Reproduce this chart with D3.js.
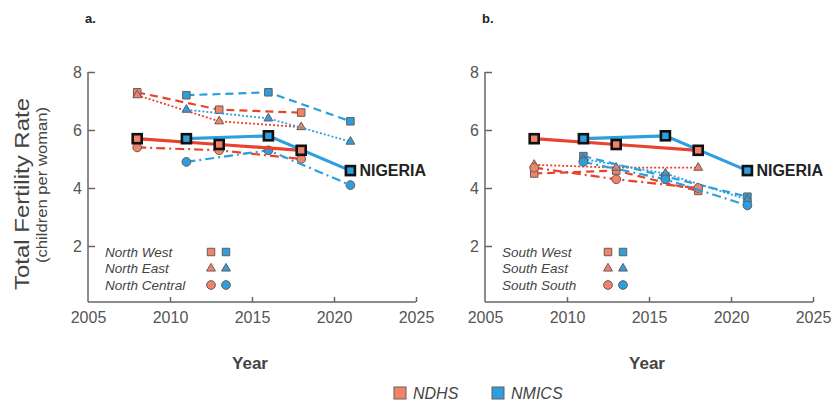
<!DOCTYPE html>
<html>
<head>
<meta charset="utf-8">
<script src="https://cdn.jsdelivr.net/npm/d3@7"></script>
<style>
  html, body { margin: 0; padding: 0; background: #fff; }
  svg { display: block; }
  text { font-family: "Liberation Sans", Arial, sans-serif; }
</style>
</head>
<body>
<svg id="chart" width="833" height="408"></svg>
<script>
// Survey years
const yearsNDHS = [2008, 2013, 2018];
const yearsNMICS = [2011, 2016, 2021];

// Total fertility rate, national
const nigeriaNDHS = [5.7, 5.5, 5.3];
const nigeriaNMICS = [5.7, 5.8, 4.6];

// Northern zones
const northWestNDHS = [7.3, 6.7, 6.6];
const northWestNMICS = [7.2, 7.3, 6.3];
const northEastNDHS = [7.2, 6.3, 6.1];
const northEastNMICS = [6.7, 6.4, 5.6];
const northCentralNDHS = [5.4, 5.3, 5.0];
const northCentralNMICS = [4.9, 5.3, 4.1];

// Southern zones
const southWestNDHS = [4.5, 4.6, 3.9];
const southWestNMICS = [5.1, 4.4, 3.7];
const southEastNDHS = [4.8, 4.7, 4.7];
const southEastNMICS = [5.0, 4.5, 3.6];
const southSouthNDHS = [4.7, 4.3, 4.0];
const southSouthNMICS = [4.9, 4.3, 3.4];

const yTicks = [2, 4, 6, 8];
const xTicks = [2005, 2010, 2015, 2020, 2025];

const RED_LINE = "#e8432d", RED_FILL = "#ef8468";
const BLUE_LINE = "#2c9fe0", BLUE_FILL = "#2c9fe0";
const EDGE = "#6b5a55";

const svg = d3.select("#chart");

const panels = [
  {
    tag: "a.", left: 88, right: 416,
    names: ["North West", "North East", "North Central"],
    zones: [
      [northWestNDHS, northWestNMICS],
      [northEastNDHS, northEastNMICS],
      [northCentralNDHS, northCentralNMICS]
    ]
  },
  {
    tag: "b.", left: 485, right: 813,
    names: ["South West", "South East", "South South"],
    zones: [
      [southWestNDHS, southWestNMICS],
      [southEastNDHS, southEastNMICS],
      [southSouthNDHS, southSouthNMICS]
    ]
  }
];

// line style and marker per zone: West dashed/square, East dotted/triangle, third dash-dot/circle
const zoneDash = ["8,5", "2,2", "9,4,2,4"];
const zoneShape = [d3.symbolSquare, d3.symbolTriangle, d3.symbolCircle];
const zoneSize = [56, 34, 60];

const AXIS_Y = 302;

panels.forEach(p => {
  const x = d3.scaleLinear().domain([2005, 2025]).range([p.left, p.right]);
  const y = d3.scaleLinear().domain([0, 8]).range([304, 72]);
  const g = svg.append("g");

  // panel tag
  g.append("text").attr("x", p.left - 3).attr("y", 23)
    .attr("font-size", 13).attr("font-weight", "bold").attr("fill", "#222")
    .text(p.tag);

  // axes
  const yAxis = d3.axisLeft(y).tickValues(yTicks).tickSizeInner(-7).tickSizeOuter(0).tickPadding(6)
    .tickFormat(d3.format("d"));
  const ya = g.append("g").attr("transform", `translate(${p.left},0)`).call(yAxis);
  ya.select(".domain").remove();
  ya.selectAll(".tick line").attr("stroke", "#666").attr("stroke-width", 1.5);
  ya.selectAll(".tick text").attr("font-size", 16).attr("fill", "#555")
    .attr("font-family", "'Liberation Sans', Arial, sans-serif");
  g.append("line").attr("x1", p.left).attr("x2", p.left).attr("y1", y(8)).attr("y2", AXIS_Y)
    .attr("stroke", "#666").attr("stroke-width", 1.5);

  const xAxis = d3.axisBottom(x).tickValues(xTicks).tickSizeInner(-5).tickSizeOuter(0).tickPadding(10)
    .tickFormat(d3.format("d"));
  const xa = g.append("g").attr("transform", `translate(0,${AXIS_Y})`).call(xAxis);
  xa.select(".domain").remove();
  xa.selectAll(".tick line").attr("stroke", "#666").attr("stroke-width", 1.5)
    .attr("display", d => d === 2005 ? "none" : null);
  xa.selectAll(".tick text").attr("font-size", 16).attr("fill", "#555")
    .attr("font-family", "'Liberation Sans', Arial, sans-serif");
  g.append("line").attr("x1", p.left).attr("x2", p.right).attr("y1", AXIS_Y).attr("y2", AXIS_Y)
    .attr("stroke", "#666").attr("stroke-width", 1.5);

  g.append("text").attr("x", (p.left + p.right) / 2 - 2).attr("y", 369)
    .attr("text-anchor", "middle").attr("font-size", 17).attr("font-weight", "bold").attr("fill", "#444")
    .text("Year");

  const line = d3.line().x(d => x(d[0])).y(d => y(d[1]));
  const pts = (years, vals) => years.map((yr, i) => [yr, vals[i]]);

  // regional series
  p.zones.forEach((z, zi) => {
    [[yearsNDHS, z[0], RED_LINE, RED_FILL], [yearsNMICS, z[1], BLUE_LINE, BLUE_FILL]].forEach(s => {
      const data = pts(s[0], s[1]);
      g.append("path").datum(data).attr("d", line).attr("fill", "none")
        .attr("stroke", s[2]).attr("stroke-width", zi === 1 ? 1.8 : 2.2)
        .attr("stroke-dasharray", zoneDash[zi]);
      g.selectAll(null).data(data).enter().append("path")
        .attr("transform", d => `translate(${x(d[0])},${y(d[1])})`)
        .attr("d", d3.symbol().type(zoneShape[zi]).size(zoneSize[zi]))
        .attr("fill", s[3]).attr("stroke", EDGE).attr("stroke-width", 1);
    });
  });

  // national series
  [[yearsNDHS, nigeriaNDHS, RED_LINE, RED_FILL], [yearsNMICS, nigeriaNMICS, BLUE_LINE, BLUE_FILL]].forEach(s => {
    const data = pts(s[0], s[1]);
    g.append("path").datum(data).attr("d", line).attr("fill", "none")
      .attr("stroke", s[2]).attr("stroke-width", 3.2);
  });
  [[yearsNDHS, nigeriaNDHS, RED_FILL], [yearsNMICS, nigeriaNMICS, BLUE_FILL]].forEach(s => {
    const data = pts(s[0], s[1]);
    g.selectAll(null).data(data).enter().append("rect")
      .attr("x", d => x(d[0]) - 4.5).attr("y", d => y(d[1]) - 4.5)
      .attr("width", 9).attr("height", 9)
      .attr("fill", s[2]).attr("stroke", "#111").attr("stroke-width", 2.6);
  });
  const lastX = yearsNMICS[yearsNMICS.length - 1], lastV = nigeriaNMICS[nigeriaNMICS.length - 1];
  g.append("text").attr("x", x(lastX) + 9).attr("y", y(lastV) + 5.5)
    .attr("font-size", 16).attr("font-weight", "bold").attr("fill", "#222")
    .text("NIGERIA");

  // zone key
  p.names.forEach((nm, i) => {
    const ky = 252 + i * 16.5;
    g.append("text").attr("x", p.left + 17).attr("y", ky + 4.5)
      .attr("font-size", 13.5).attr("font-style", "italic").attr("fill", "#444").text(nm);
    [[RED_FILL, 123], [BLUE_FILL, 138]].forEach(m => {
      g.append("path").attr("transform", `translate(${p.left + m[1]},${ky})`)
        .attr("d", d3.symbol().type(zoneShape[i]).size(zoneSize[i]))
        .attr("fill", m[0]).attr("stroke", EDGE).attr("stroke-width", 1);
    });
  });
});

// y axis title
svg.append("text").attr("transform", "translate(29,194) rotate(-90)")
  .attr("text-anchor", "middle").attr("font-size", 21).attr("fill", "#444")
  .attr("textLength", 192).attr("lengthAdjust", "spacingAndGlyphs")
  .text("Total Fertility Rate");
svg.append("text").attr("transform", "translate(47,185) rotate(-90)")
  .attr("text-anchor", "middle").attr("font-size", 14).attr("fill", "#444")
  .attr("textLength", 156).attr("lengthAdjust", "spacingAndGlyphs")
  .text("(children per woman)");

// source key
const sources = [["NDHS", RED_FILL, 400], ["NMICS", BLUE_FILL, 498]];
sources.forEach(s => {
  svg.append("rect").attr("x", s[2] - 6).attr("y", 387).attr("width", 12).attr("height", 12)
    .attr("fill", s[1]).attr("stroke", EDGE).attr("stroke-width", 1);
  svg.append("text").attr("x", s[2] + 13).attr("y", 399)
    .attr("font-size", 16).attr("font-style", "italic").attr("fill", "#444").text(s[0]);
});
</script>
</body>
</html>
